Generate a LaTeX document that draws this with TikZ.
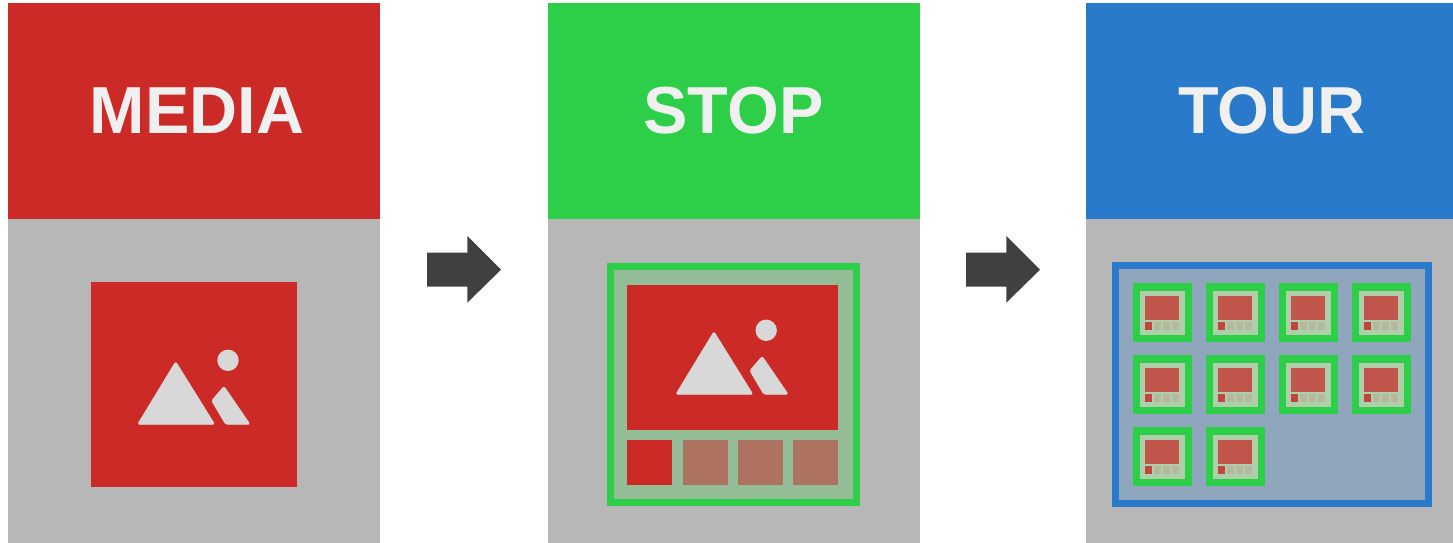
\documentclass[tikz,border=0pt]{standalone}
\usepackage{fontspec}
\setmainfont{Liberation Sans}
\definecolor{cred}{HTML}{CC2A27}
\definecolor{cgreen}{HTML}{2CCF47}
\definecolor{cblue}{HTML}{2A7ACC}
\definecolor{cgray}{HTML}{B7B7B7}
\definecolor{carrow}{HTML}{404040}
\definecolor{cicon}{HTML}{D8D8D8}
\definecolor{cstopin}{HTML}{94BC97}
\definecolor{cthumb}{HTML}{AD7360}
\definecolor{ctourin}{HTML}{90A6BD}
\definecolor{ctilein}{HTML}{AECFA9}
\definecolor{ctilered}{HTML}{C2554B}
\definecolor{ctilethumb}{HTML}{B6B89E}
\definecolor{ctilefirst}{HTML}{BE463C}
\definecolor{ctext}{HTML}{F0F0F0}
\tikzset{
  title/.style={text=ctext,font=\fontsize{66.5}{66.5}\selectfont\bfseries,inner sep=0pt,anchor=center},
  iconpart/.style={fill=cicon,draw=cicon,line width=0.6pt,rounded corners=1.6pt},
}
\newcommand{\mountainicon}[2]{%
  \begin{scope}[shift={(#1,#2)}]
    \path[iconpart] (175.7,361.6) -- (137.6,424.3) -- (214.7,424.3) -- cycle;
    \path[iconpart] (224,386.3) -- (211.6,400.7) -- (225.6,424.3) -- (250,424.3) -- cycle;
    \fill[cicon] (228,360.3) circle (10.7);
  \end{scope}}
\newcommand{\bigarrow}[1]{%
  \fill[carrow,shift={(#1,0)}] (427,252.7) -- (467.3,252.7) -- (467.3,236) -- (501,269.7) -- (467.3,302.7) -- (467.3,286.7) -- (427,286.7) -- cycle;}
\newcommand{\tile}[2]{%
  \begin{scope}[shift={(#1,#2)}]
    \fill[cgreen] (1133,283.3) rectangle (1191.7,342.3);
    \fill[ctilein] (1140,290.5) rectangle (1184.5,335);
    \fill[ctilered] (1145,296) rectangle (1178.7,320);
    \fill[ctilefirst] (1145,322.3) rectangle (1152,330);
    \fill[ctilethumb] (1154.3,322.3) rectangle (1161,330);
    \fill[ctilethumb] (1163.3,322.3) rectangle (1170.3,330);
    \fill[ctilethumb] (1172.3,322.3) rectangle (1179,330);
  \end{scope}}
\begin{document}
\begin{tikzpicture}[x=1pt,y=-1pt]
\useasboundingbox (0,0) rectangle (1453,543);
% panels
\fill[cred] (8,3) rectangle (380,219);
\fill[cgray] (8,219) rectangle (380,543);
\fill[cgreen] (548,3) rectangle (920,219);
\fill[cgray] (548,219) rectangle (920,543);
\fill[cblue] (1086,3) rectangle (1453,219);
\fill[cgray] (1086,219) rectangle (1453,543);
\node[title] (media) at (197,111) {MEDIA};
\node[title] (stop) at (733.5,111) {STOP};
\node[title] (tour) at (1272,111) {TOUR};
% media
\fill[cred] (91,282) rectangle (297,487);
\mountainicon{0}{0}
% arrows
\bigarrow{0}
\bigarrow{539}
% stop
\fill[cgreen] (607,263) rectangle (860,506);
\fill[cstopin] (614,270) rectangle (853,499);
\fill[cred] (627,285.3) rectangle (838,429.7);
\mountainicon{538.2}{-30}
\fill[cred] (627,440) rectangle (672,485);
\fill[cthumb] (682.7,440) rectangle (727.7,485);
\fill[cthumb] (738,440) rectangle (783,485);
\fill[cthumb] (793,440) rectangle (838,485);
% tour
\fill[cblue] (1112,262) rectangle (1432,507);
\fill[ctourin] (1119,269) rectangle (1425,500);
\foreach \dy in {0,72}{\foreach \dx in {0,73,146,219}{\tile{\dx}{\dy}}}
\tile{0}{144}
\tile{73}{144}
\end{tikzpicture}
\end{document}
